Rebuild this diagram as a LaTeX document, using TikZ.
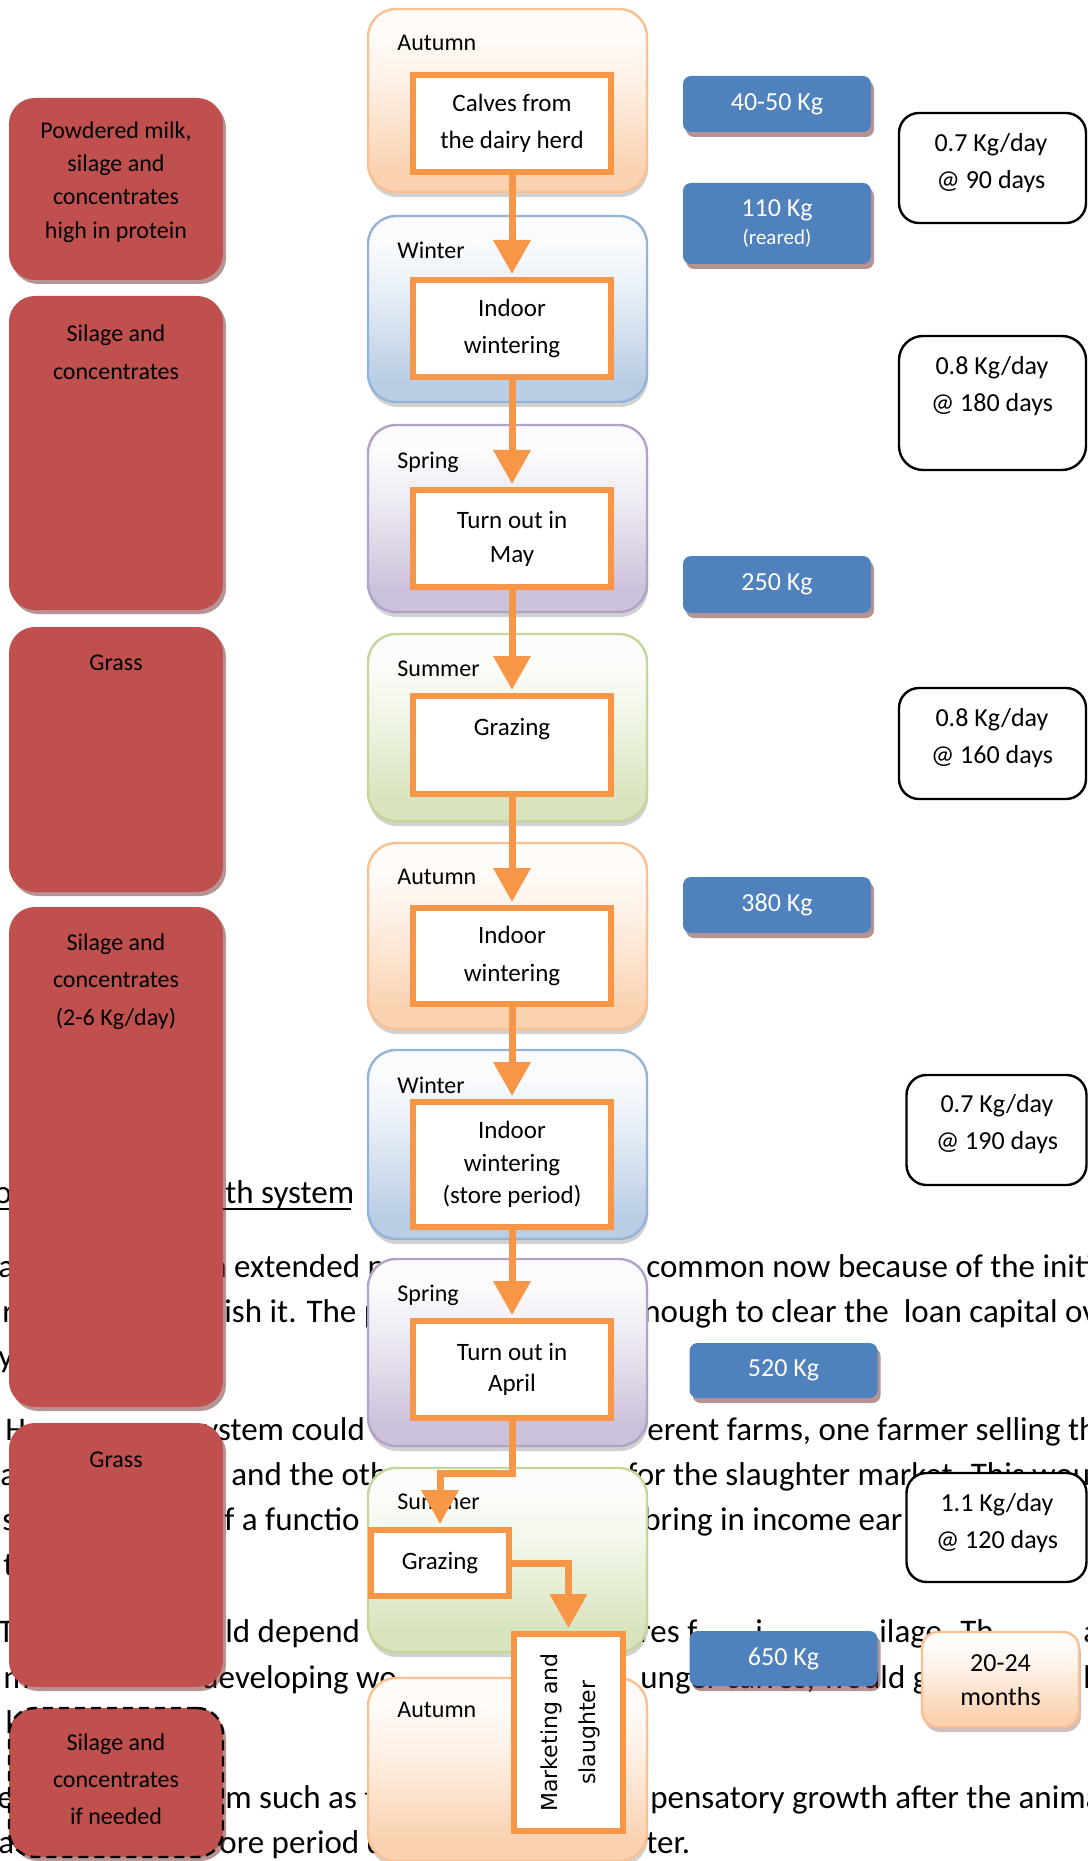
\documentclass[tikz,border=0pt]{standalone}
\usepackage{fontspec}
\usepackage{graphicx}
\setmainfont{Carlito}
\newfontfamily\vfont{DejaVu Sans}
\usetikzlibrary{arrows.meta,shadows}

\definecolor{redbox}{HTML}{C0504D}
\definecolor{bluebox}{HTML}{4F81BD}
\definecolor{boxshade}{HTML}{6E2A2A}
\definecolor{flowline}{HTML}{F79646}
\definecolor{autbot}{HTML}{FAD2B1}
\definecolor{autedge}{HTML}{FAC090}
\definecolor{winbot}{HTML}{B9CDE5}
\definecolor{winedge}{HTML}{95B3D7}
\definecolor{sprbot}{HTML}{CCC1DA}
\definecolor{spredge}{HTML}{B3A2C7}
\definecolor{sumbot}{HTML}{D7E4BD}
\definecolor{sumedge}{HTML}{C3D69B}

% seasonal gradients: pale at the top, full tint towards the bottom
\newcommand\seasonshading[2]{%
  \colorlet{#1a}{#2!8!white}\colorlet{#1b}{#2!30!white}\colorlet{#1c}{#2!65!white}%
  \pgfdeclareverticalshading{#1}{100bp}{color(0bp)=(#2); color(31bp)=(#2); color(43bp)=(#1c); color(56bp)=(#1b); color(68bp)=(#1a); color(100bp)=(#1a)}}
\seasonshading{autshade}{autbot}
\seasonshading{winshade}{winbot}
\seasonshading{sprshade}{sprbot}
\seasonshading{sumshade}{sumbot}

\begin{document}
\begin{tikzpicture}[x=0.5pt, y=-0.5pt,
  season/.style={rectangle, rounded corners=14pt, line width=1.2pt, minimum width=139.5pt, inner sep=0pt,
    drop shadow={shadow xshift=0.5pt, shadow yshift=-2.5pt, fill=black, opacity=0.18}},
  autumn/.style={season, draw=autedge, shading=autshade, shade},
  winter/.style={season, draw=winedge, shading=winshade, shade},
  spring/.style={season, draw=spredge, shading=sprshade, shade},
  summer/.style={season, draw=sumedge, shading=sumshade, shade},
  seasonlbl/.style={anchor=west, inner sep=0pt, font=\fontsize{12}{14}\selectfont},
  flowbox/.style={rectangle, draw=flowline, line width=3pt, fill=white, minimum width=99pt, inner sep=0pt,
    align=center, font=\fontsize{12.5}{18.5}\selectfont},
  flow/.style={draw=flowline, line width=3.5pt, line join=miter, -{Triangle[width=18pt,length=17pt]}, shorten >=1.5pt},
  feedbox/.style={rectangle, fill=redbox, rounded corners=13pt, minimum width=107pt, inner sep=0pt,
    drop shadow={shadow xshift=1.5pt, shadow yshift=-2pt, fill=boxshade, opacity=0.5}},
  feedtext/.style={align=center, inner sep=0pt, font=\fontsize{12}{16.7}\selectfont},
  weightbox/.style={rectangle, fill=bluebox, rounded corners=4pt, minimum width=94pt, inner sep=0pt,
    text=white, align=center, font=\fontsize{13}{14}\selectfont,
    drop shadow={shadow xshift=1.5pt, shadow yshift=-2.5pt, fill=boxshade, opacity=0.5}},
  gainbox/.style={rectangle, draw=black, line width=1.2pt, fill=white, rounded corners=10pt, inner sep=0pt},
  gaintext/.style={align=center, inner sep=0pt, font=\fontsize{13}{18.5}\selectfont},
  bodytext/.style={anchor=base west, inner sep=0pt, font=\fontsize{16.5}{20}\selectfont}]

\useasboundingbox (0,0) rectangle (1087,1861);
\fill[white] (0,0) rectangle (1087,1861);

% running text of the page behind the chart
\node[bodytext] (p0a) at (-6,1203) {o};
\node[bodytext] (p0b) at (225,1203) {th system};
\draw[line width=0.75pt] (0,1209) -- (351,1209);
\node[bodytext] (p1a) at (-2,1277) {a};
\node[bodytext] (p1b) at (209,1277) {n extended p};
\node[bodytext] (p1c) at (646,1277) {common now because of the initi};
\node[bodytext] (p2a) at (2,1322) {r};
\node[bodytext] (p2b) at (224,1322) {ish it. The p};
\node[bodytext] (p2c) at (643,1322) {nough to clear the\ \ loan capital ov};
\node[bodytext] (p3a) at (-2,1367) {y};
\node[bodytext] (p4a) at (5,1440) {H};
\node[bodytext] (p4b) at (203,1440) {ystem could};
\node[bodytext] (p4c) at (647,1440) {erent farms, one farmer selling th};
\node[bodytext] (p5a) at (0,1485) {a};
\node[bodytext] (p5b) at (231,1485) {and the oth};
\node[bodytext] (p5c) at (627,1485) {for the slaughter market. This would};
\node[bodytext] (p6a) at (2,1530) {s};
\node[bodytext] (p6b) at (224,1530) {f a functio};
\node[bodytext] (p6c) at (643,1530) {bring in income ear};
\node[bodytext] (p7a) at (3,1575) {t};
\node[bodytext] (p8a) at (-2,1642) {T};
\node[bodytext] (p8b) at (225,1642) {ld depend};
\node[bodytext] (p8c) at (639,1642) {res f};
\node[bodytext] (p8d) at (755,1642) {i};
\node[bodytext] (p8e) at (879,1642) {ilage. Th};
\node[bodytext] (p8f) at (1083,1642) {a};
\node[bodytext] (p9a) at (3,1688) {m};
\node[bodytext] (p9b) at (201,1688) {developing wo};
\node[bodytext] (p9c) at (640,1688) {unger calves, would gr};
\node[bodytext] (p9d) at (1083,1688) {h};
\node[bodytext] (p10a) at (5,1733) {l};
\node[bodytext] (p11a) at (-3,1808) {e};
\node[bodytext] (p11b) at (225,1808) {m such as t};
\node[bodytext] (p11c) at (650,1808) {pensatory growth after the anima};
\node[bodytext] (p12a) at (-2,1853) {a};
\node[bodytext] (p12b) at (219,1853) {ore period d};
\node[bodytext] (p12c) at (646,1853) {ter.};

% feeding column
\node[feedbox, minimum height=91pt] (r1) at (116,189) {};
\node[feedtext] (r1t) at (116,182) {Powdered milk,\\silage and\\concentrates\\high in protein};
\node[feedbox, minimum height=157pt] (r2) at (116,453) {};
\node[feedtext, font=\fontsize{12}{19.2}\selectfont] (r2t) at (116,352) {Silage and\\concentrates};
\node[feedbox, minimum height=132.5pt] (r3) at (116,759.5) {};
\node[feedtext] (r3t) at (116,663) {Grass};
\node[feedbox, minimum height=250pt] (r4) at (116,1157) {};
\node[feedtext, font=\fontsize{12}{18.75}\selectfont] (r4t) at (116,981.5) {Silage and\\concentrates\\(2-6 Kg/day)};
\node[feedbox, minimum height=132pt] (r5) at (116,1555) {};
\node[feedtext] (r5t) at (116,1460) {Grass};
\node[feedbox, minimum height=74.5pt, draw=black, line width=1.2pt, dash pattern=on 5pt off 3pt] (r6) at (116,1782.5) {};
\node[feedtext, font=\fontsize{12}{18.5}\selectfont] (r6t) at (116,1779) {Silage and\\concentrates\\if needed};

% seasons
\node[autumn, minimum height=91.5pt] (s1) at (507.5,100.5) {};
\node[winter, minimum height=93pt]   (s2) at (507.5,309) {};
\node[spring, minimum height=93.5pt] (s3) at (507.5,518.5) {};
\node[summer, minimum height=93.5pt] (s4) at (507.5,727.5) {};
\node[autumn, minimum height=93pt]   (s5) at (507.5,936) {};
\node[winter, minimum height=94.5pt] (s6) at (507.5,1144.5) {};
\node[spring, minimum height=93.5pt] (s7) at (507.5,1352.5) {};
\node[summer, minimum height=92pt]   (s8) at (507.5,1560) {};
\node[autumn, minimum height=91.5pt] (s9) at (507.5,1769.5) {};

\node[seasonlbl] (l1) at (397,43) {Autumn};
\node[seasonlbl] (l2) at (397,250) {Winter};
\node[seasonlbl] (l3) at (397,462) {Spring};
\node[seasonlbl] (l4) at (397,669) {Summer};
\node[seasonlbl] (l5) at (397,877) {Autumn};
\node[seasonlbl] (l6) at (397,1085) {Winter};
\node[seasonlbl] (l7) at (397,1295) {Spring};
\node[seasonlbl] (l8) at (397,1502) {Summer};
\node[seasonlbl] (l9) at (397,1710) {Autumn};

% stages
\node[flowbox, minimum height=48.5pt] (i1) at (512,123.5) {Calves from\\the dairy herd};
\node[flowbox, minimum height=48.5pt] (i2) at (512,328.5) {Indoor\\wintering};
\node[flowbox, minimum height=48.5pt, font=\fontsize{12.5}{17}\selectfont] (i3) at (512,538.5) {Turn out in\\May};
\node[flowbox, minimum height=49pt] (i4) at (512,745) {Grazing\\\mbox{}};
\node[flowbox, minimum height=48pt, font=\fontsize{12.5}{19}\selectfont] (i5) at (512,956) {Indoor\\wintering};
\node[flowbox, minimum height=62.5pt, font=\fontsize{12.5}{16.25}\selectfont] (i6) at (512,1164.5) {Indoor\\wintering\\(store period)};
\node[flowbox, minimum height=48.5pt, font=\fontsize{12.5}{15.5}\selectfont] (i7) at (512,1369.5) {Turn out in\\April};
\node[flowbox, minimum width=69pt, minimum height=33pt] (i8) at (440,1563) {Grazing};
\node[flowbox, minimum width=54.5pt, minimum height=98.5pt] (i9) at (568.5,1732.5)
  {{\vfont\fontsize{11}{19}\selectfont\rotatebox{90}{\begin{tabular}{@{}c@{}}Marketing and\\slaughter\end{tabular}}}};

\coordinate (bendA) at (440,1473);
\draw[flow] (i1.south) -- (i2.north);
\draw[flow] (i2.south) -- (i3.north);
\draw[flow] (i3.south) -- (i4.north);
\draw[flow] (i4.south) -- (i5.north);
\draw[flow] (i5.south) -- (i6.north);
\draw[flow] (i6.south) -- (i7.north);
\draw[flow] (i7.south) |- (bendA) -- (i8.north);
\draw[flow] (i8.east) -| (i9.north);

% live weights
\node[weightbox, minimum height=28pt] (b1) at (777,104) {40-50 Kg};
\node[weightbox, minimum height=40.5pt] (b2) at (777,223.5) {110 Kg\\{\fontsize{10.5}{12}\selectfont(reared)}};
\node[weightbox, minimum height=28.5pt] (b3) at (777,584.5) {250 Kg};
\node[weightbox, minimum height=28pt] (b4) at (777,905) {380 Kg};
\node[weightbox, minimum height=27.5pt] (b5) at (783.5,1370.5) {520 Kg};
\node[weightbox, minimum height=27.5pt] (b6) at (783.5,1658.5) {650 Kg};

% daily gains
\node[gainbox, minimum width=93.5pt, minimum height=55pt] (w1) at (992.5,168) {};
\node[gaintext] (w1t) at (991,163.5) {0.7 Kg/day\\@ 90 days};
\node[gainbox, minimum width=93.5pt, minimum height=67pt, rounded corners=12pt] (w2) at (992.5,403) {};
\node[gaintext] (w2t) at (992,386.5) {0.8 Kg/day\\@ 180 days};
\node[gainbox, minimum width=93.5pt, minimum height=55.5pt] (w3) at (992.5,743.5) {};
\node[gaintext] (w3t) at (992,738) {0.8 Kg/day\\@ 160 days};
\node[gainbox, minimum width=90pt, minimum height=55pt] (w4) at (996.5,1130) {};
\node[gaintext] (w4t) at (997,1124.5) {0.7 Kg/day\\@ 190 days};
\node[gainbox, minimum width=90pt, minimum height=54.5pt] (w5) at (996.5,1527.5) {};
\node[gaintext] (w5t) at (997,1523.5) {1.1 Kg/day\\@ 120 days};

% age at slaughter
\node[rectangle, draw=autedge, line width=1.2pt, shading=autshade, shade, rounded corners=8pt,
  minimum width=78.5pt, minimum height=47.5pt, inner sep=0pt,
  drop shadow={shadow xshift=1pt, shadow yshift=-2.5pt, fill=boxshade, opacity=0.3}] (w6) at (1000.5,1679.5) {};
\node[gaintext, font=\fontsize{13}{17}\selectfont] (w6t) at (1000.5,1680) {20-24\\months};

\end{tikzpicture}
\end{document}
